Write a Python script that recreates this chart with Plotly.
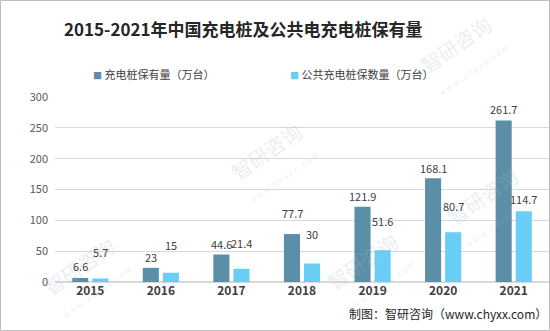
import plotly.graph_objects as go

years = ["2015", "2016", "2017", "2018", "2019", "2020", "2021"]
total_piles = [6.6, 23, 44.6, 77.7, 121.9, 168.1, 261.7]
public_piles = [5.7, 15, 21.4, 30, 51.6, 80.7, 114.7]
name_total = "充电桩保有量（万台）"
name_public = "公共充电桩保数量（万台）"
title = "2015-2021年中国充电桩及公共电充电桩保有量"
source = "制图：智研咨询（www.chyxx.com）"
watermark = "智研咨询"
watermark_url = "w w w . c h y x x . c o m"
yticks = [0, 50, 100, 150, 200, 250, 300]

# label offsets in px (style)
shift_total = [12, 11, 11, 21, 11, 10, 12]
shift_public = [26, 28, 26, 30, 29, 26, 12]

W, H = 550, 331
L, R, T, B = 55, 1, 97, 49
pw, ph = W - L - R, H - T - B

c_dark = "#5B8FA8"
c_light = "#69CEF5"
fontfam = "Noto Sans CJK SC, Noto Sans, sans-serif"


def px2paper(x, y):
    return (x - L) / pw, 1 - (y - T) / ph


fig = go.Figure()
fig.add_trace(go.Bar(x=years, y=total_piles, name=name_total, marker_color=c_dark,
                     marker_line_width=0))
fig.add_trace(go.Bar(x=years, y=public_piles, name=name_public, marker_color=c_light,
                     marker_line_width=0))

ann = []
# faint watermarks (drawn first, beneath other texts)
wm_pos = [(85, 275), (272, 160), (368, 270), (462, 54), (488, 205)]
for (wx, wy) in wm_pos:
    ax, ay = px2paper(wx, wy)
    ann.append(dict(x=ax, y=ay, xref="paper", yref="paper",
                    text=("<span style='font-size:20px'>" + watermark + "</span><br>"
                          "<span style='font-size:8px'>" + watermark_url + "</span>"),
                    showarrow=False, textangle=-35, xanchor="center", yanchor="middle",
                    font=dict(size=20, color="rgba(170,185,205,0.25)", family=fontfam)))

for i, y in enumerate(years):
    ann.append(dict(x=i, y=total_piles[i], xref="x", yref="y", text=str(total_piles[i]),
                    showarrow=False, xshift=-10, yshift=shift_total[i],
                    font=dict(size=11, color="#404040", family=fontfam)))
    ann.append(dict(x=i, y=public_piles[i], xref="x", yref="y", text=str(public_piles[i]),
                    showarrow=False, xshift=10, yshift=shift_public[i],
                    font=dict(size=11, color="#404040", family=fontfam)))

tx, ty = px2paper(243, 28)
ann.append(dict(x=tx, y=ty, xref="paper", yref="paper",
                text="<b>" + title + "</b>", showarrow=False, xanchor="center", yanchor="middle",
                font=dict(size=17, color="#262626", family=fontfam)))
sx, sy = px2paper(549, 313)
ann.append(dict(x=sx, y=sy, xref="paper", yref="paper",
                text=source, showarrow=False, xanchor="right", yanchor="middle",
                font=dict(size=12, color="#262626", family=fontfam)))

# legend entries
for (lx, name, col) in [(91, name_total, c_dark), (288, name_public, c_light)]:
    ax, ay = px2paper(lx, 74)
    ann.append(dict(x=ax, y=ay, xref="paper", yref="paper",
                    text=("<span style='color:" + col + ";font-size:9px'>■</span> " + name),
                    showarrow=False, xanchor="left", yanchor="middle",
                    font=dict(size=11, color="#404040", family=fontfam)))

fig.update_layout(
    width=W, height=H,
    margin=dict(l=L, r=R, t=T, b=B),
    paper_bgcolor="white", plot_bgcolor="white",
    barmode="group", bargap=0.43, bargroupgap=0.2,
    showlegend=False,
    annotations=ann,
    shapes=[dict(type="rect", xref="paper", yref="paper",
                 x0=-(L - 0.5) / pw, x1=1 + (R - 0.5) / pw,
                 y0=-(B - 0.5) / ph, y1=1 + (T - 0.5) / ph,
                 line=dict(color="#BFBFBF", width=1))],
)
fig.update_xaxes(type="category", range=[-0.5, len(years) - 0.5], showgrid=False,
                 showline=False, ticks="",
                 tickfont=dict(size=12, color="#404040", family=fontfam),
                 tickprefix="<b>", ticksuffix="</b>")
fig.update_yaxes(range=[0, 300], tickvals=yticks, showgrid=True, gridcolor="#D9D9D9",
                 gridwidth=1, zeroline=True, zerolinecolor="#D9D9D9", showline=False,
                 tickfont=dict(size=11, color="#595959", family=fontfam), ticklabelstandoff=6)

fig.write_html("out.html")
